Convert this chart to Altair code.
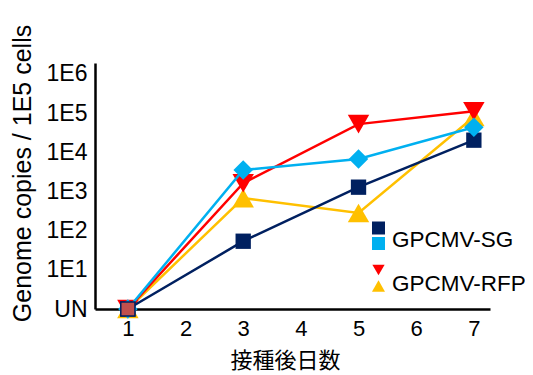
import altair as alt
import pandas as pd

days = [1, 3, 5, 7]
# log10 genome copies (UN = 0)
sg_navy = [0, 1.73, 3.11, 4.31]
sg_blue = [0, 3.55, 3.83, 4.64]
rfp_red = [0, 3.21, 4.72, 5.05]
rfp_yellow = [0, 2.83, 2.45, 4.90]

series = [
    ("RFP-yellow", rfp_yellow, "#FFC000", "triangle-up", 460),
    ("RFP-red", rfp_red, "#FF0000", "triangle-down", 460),
    ("SG-navy", sg_navy, "#002060", "square", 235),
    ("SG-blue", sg_blue, "#00B0F0", "diamond", 380),
]

xt = [1, 2, 3, 4, 5, 6, 7]
yt = [0, 1, 2, 3, 4, 5, 6]

W, H = 395, 246
FONT = "Liberation Sans"

xs = alt.Scale(domain=[0.43, 7.28], nice=False, zero=False)
ys = alt.Scale(domain=[0, 6.28], nice=False, zero=False)

xax = alt.Axis(values=xt, title="接種後日数", titleFont="Noto Sans CJK JP", titleFontSize=22,
               titleFontWeight="normal", titleColor="black", titlePadding=11, titleX=190,
               labelFont=FONT, labelFontSize=22, labelColor="black", labelPadding=9,
               ticks=False, grid=False, domainColor="black", domainWidth=2.5)
yax = alt.Axis(values=yt, title="Genome copies / 1E5 cells",
               labelExpr="datum.value == 0 ? 'UN' : '1E' + datum.value",
               titleFont=FONT, titleFontSize=25, titleFontWeight="normal", titleColor="black",
               titleX=-73, titleY=110, titleAngle=-90, titleAlign="center", titleBaseline="middle",
               labelFont=FONT, labelFontSize=23, labelColor="black", labelPadding=8,
               ticks=False, grid=False, domainColor="black", domainWidth=2.5)

X = alt.X("day:Q", scale=xs, axis=xax)
Y = alt.Y("v:Q", scale=ys, axis=yax)

layers = []
for name, vals, col, shape, size in series:
    df = pd.DataFrame({"day": days, "v": vals})
    base = alt.Chart(df)
    line = base.mark_line(color=col, strokeWidth=2.5).encode(x=X, y=Y)
    pts = base.mark_point(color=col, filled=True, opacity=1, shape=shape, size=size).encode(x=X, y=Y)
    layers += [line, pts]

# day-1 marker on top
d1 = pd.DataFrame({"day": [days[0]], "v": [sg_navy[0]]})
layers.append(alt.Chart(d1).mark_point(shape="square", filled=True, fill="#C0504D", opacity=1,
                                       stroke="#002060", strokeWidth=1.5, size=200).encode(x=X, y=Y))

# legend
leg_px = [283.5, 283.5, 283.5, 283.5]
leg_py = [165, 180.5, 207, 223]
leg_shape = ["square", "square", "triangle-down", "triangle-up"]
leg_col = ["#002060", "#00B0F0", "#FF0000", "#FFC000"]
leg_size = [169, 169, 150, 170]
for px, py, sh, col, sz in zip(leg_px, leg_py, leg_shape, leg_col, leg_size):
    layers.append(alt.Chart(pd.DataFrame({"a": [0]})).mark_point(
        shape=sh, filled=True, opacity=1, color=col, size=sz).encode(
        x=alt.value(px), y=alt.value(py)))
leg_labels = ["GPCMV-SG", "GPCMV-RFP"]
leg_ly = [177, 221]
for lab, ly in zip(leg_labels, leg_ly):
    layers.append(alt.Chart(pd.DataFrame({"t": [lab]})).mark_text(
        text=lab, font=FONT, fontSize=22.5, color="black", align="left", baseline="middle").encode(
        x=alt.value(297), y=alt.value(ly)))

chart = alt.layer(*layers).properties(
    width=W, height=H, autosize=alt.AutoSizeParams(type="none"),
    padding={"left": 87, "top": 55, "right": 35, "bottom": 64},
    background="white",
).configure_view(stroke=None)

chart.save("out.html", embed_options={"renderer": "svg", "actions": False})
